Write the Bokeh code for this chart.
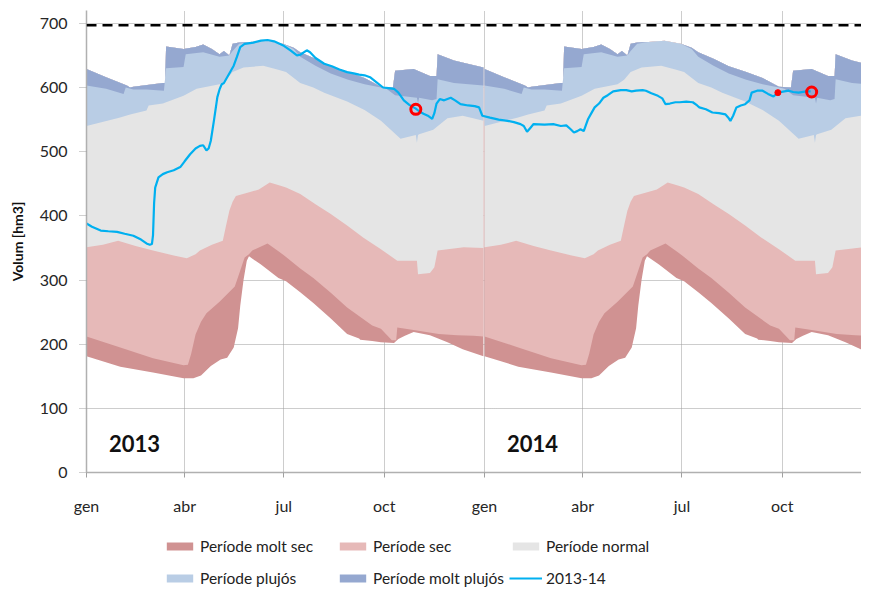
from bokeh.plotting import figure
from bokeh.layouts import column
from bokeh.models import Range1d, FixedTicker, Span, Legend, LegendItem, Label
from bokeh.embed import file_html
from bokeh.resources import INLINE

# ---------------- data (day of year, hm3) ----------------
# boundaries of the climatological bands (same each year)
days_b0 = [0, 31, 61, 89, 98, 105, 114, 123, 129, 135, 139, 141, 144, 147, 149, 160, 176, 183, 196, 208,
           224, 239, 250, 251, 262, 270, 282, 286, 292, 300, 315, 331, 345, 364]
vals_b0 = [181, 165, 156, 147, 147, 151, 166, 176, 179, 195, 225, 260, 300, 330, 337, 324, 303, 298, 281, 264,
           240, 216, 209, 207, 205, 203, 202, 208, 213, 219, 214, 203, 192, 181]

days_b1 = [0, 31, 61, 89, 93, 96, 100, 105, 110, 122, 136, 141, 145, 149, 152, 166, 176, 183, 196, 208,
           224, 239, 262, 270, 280, 284, 285, 300, 323, 340, 355, 364]
vals_b1 = [212, 195, 178, 167, 168, 185, 215, 235, 248, 266, 290, 315, 335, 340, 346, 357, 345, 336, 318, 303,
           280, 257, 229, 224, 206, 206, 226, 222, 216, 214, 213, 212]

days_b2 = [0, 15, 29, 45, 61, 80, 92, 100, 104, 115, 125, 128, 131, 134, 137, 150, 158, 168, 178, 183,
           196, 210, 224, 239, 254, 270, 285, 303, 304, 315, 319, 322, 346, 364]
vals_b2 = [351, 355, 361, 353, 346, 338, 334, 340, 346, 355, 361, 385, 408, 422, 431, 437, 441, 452, 447, 444,
           434, 418, 403, 385, 366, 348, 330, 330, 309, 311, 320, 346, 351, 350]

days_b3 = [0, 30, 40, 55, 57, 70, 89, 101, 122, 128, 134, 144, 162, 175, 183, 196, 208, 218, 239, 255,
           270, 288, 302, 303, 304, 305, 318, 331, 345, 364]
vals_b3 = [540, 553, 558, 564, 572, 575, 587, 598, 605, 612, 624, 631, 634, 628, 624, 607, 600, 592, 578, 565,
           548, 520, 526, 514, 526, 527, 534, 552, 556, 548]

days_b4 = [0, 18, 34, 36, 43, 55, 71, 73, 89, 91, 107, 122, 131, 134, 140, 150, 165, 180, 190, 196,
           210, 224, 240, 255, 270, 275, 283, 303, 304, 305, 317, 321, 322, 337, 364]
vals_b4 = [603, 598, 590, 600, 597, 597, 595, 630, 632, 652, 655, 648, 650, 657, 668, 671, 673, 668, 660, 648,
           634, 622, 612, 605, 600, 598, 588, 584, 575, 584, 580, 582, 613, 607, 603]

days_b5 = [0, 18, 37, 40, 43, 70, 72, 73, 89, 100, 107, 115, 122, 126, 131, 134, 140, 150, 165, 180,
           190, 196, 210, 224, 240, 255, 270, 281, 283, 300, 315, 321, 322, 337, 364]
vals_b5 = [629, 616, 603, 600, 601, 607, 607, 664, 660, 663, 667, 660, 652, 657, 650, 668, 670, 671, 673, 668,
           662, 655, 645, 633, 624, 615, 601, 600, 626, 629, 618, 618, 652, 642, 631]

band_names = ["Període molt sec", "Període sec", "Període normal", "Període plujós", "Període molt plujós"]
band_colors = ["#D09292", "#E6B9B8", "#E5E5E5", "#B9CDE5", "#95A8D0"]

# observed volume 2013-14 (days since 1 Jan 2013)
line_days = [0, 5, 13, 20, 28, 35, 43, 50, 55, 58, 60, 61, 62, 63, 66, 70, 74, 80, 86, 90, 95, 100, 104, 107,
             110, 112, 114, 117, 120, 122, 124, 126, 129, 132, 135, 138, 141, 145, 153, 160, 166, 172, 181, 187,
             193, 196, 202, 205, 210, 218, 225, 232, 239, 245, 250, 255, 260, 266, 272, 277, 282, 286, 291, 296,
             302, 305, 309, 313, 317, 319, 321, 324, 328, 334, 338, 343, 350, 356, 360, 363, 370, 378, 386, 392,
             398, 401, 404, 407, 410, 420, 428, 435, 440, 444, 447, 450, 453, 456, 460, 463, 466, 470, 474, 478,
             483, 490, 495, 500, 504, 510, 513, 518, 524, 528, 531, 535, 540, 544, 550, 556, 560, 562, 568, 574,
             580, 586, 589, 590.5, 593, 596, 600, 604, 608, 610, 615, 620, 625, 630, 634, 640, 644, 648, 653, 660, 664]
line_vals = [388, 383, 377, 376, 375, 372, 369, 363, 357, 355, 356, 370, 420, 444, 460, 465, 468, 471, 476, 485,
             496, 505, 509, 510, 502, 505, 517, 550, 585, 597, 605, 607, 616, 625, 634, 648, 663, 668, 670, 673,
             674, 672, 665, 658, 650, 651, 658, 655, 646, 637, 633, 628, 624, 622, 620, 619, 616, 608, 600, 599,
             598, 592, 580, 573, 567, 563, 559, 556, 551, 560, 575, 582, 580, 584, 580, 574, 572, 571, 569, 556,
             553, 550, 548, 546, 543, 540, 531, 537, 543, 542, 543, 540, 541, 535, 530, 532, 535, 532, 551, 560,
             569, 575, 584, 588, 594, 596, 596, 594, 595, 596, 595, 591, 587, 583, 574, 575, 577, 577, 578, 577,
             572, 569, 566, 561, 560, 558, 552, 548, 556, 569, 572, 574, 580, 592, 595, 595, 590, 586, 592, 594,
             595, 593, 592, 594, 594]
line_name = "2013-14"

circle_days = [302, 665]
circle_vals = [566, 593]
dot_days = [634]
dot_vals = [592]

capacity = 697

year_starts = [0, 365]
year_texts = ["2013", "2014"]

month_tick_days = [0, 90, 181, 273, 365, 455, 546, 638]
month_tick_labels = ["gen", "abr", "jul", "oct", "gen", "abr", "jul", "oct"]
y_ticks = [0, 100, 200, 300, 400, 500, 600, 700]

# ---------------- main figure ----------------
FONT = "Lato"
p = figure(width=861, height=520, output_backend="svg", toolbar_location=None,
           x_range=Range1d(0, 710.7), y_range=Range1d(0, 720),
           min_border_left=86, min_border_right=0, min_border_top=10, min_border_bottom=48)
p.outline_line_color = None

boundaries = [(days_b0, vals_b0), (days_b1, vals_b1), (days_b2, vals_b2),
              (days_b3, vals_b3), (days_b4, vals_b4)]
top_d, top_v = days_b5, vals_b5


def band_polygon(k, off):
    bd, bv = boundaries[k]
    xs = [d + off for d in bd] + [d + off for d in top_d[::-1]]
    ys = list(bv) + list(top_v[::-1])
    return xs, ys


for off in year_starts:
    for k in range(len(boundaries)):
        xs, ys = band_polygon(k, off)
        p.patch(xs, ys, fill_color=band_colors[k], line_color=None)

p.line(line_days, line_vals, line_color="#00B0F0", line_width=2.2)
p.scatter(circle_days, circle_vals, marker="circle", size=10, fill_color=None,
          line_color="#FF0000", line_width=3)
p.scatter(dot_days, dot_vals, marker="circle", size=6, fill_color="#FF0000", line_color="#FF0000")

p.add_layout(Span(location=capacity, dimension="width", line_color="black",
                  line_width=2.5, line_dash="10 6"))

for off, txt in zip(year_starts, year_texts):
    p.add_layout(Label(x=off + 44, y=45, text=txt, text_font=FONT, text_font_style="bold",
                       text_font_size="22px", text_align="center", text_baseline="middle",
                       text_color="#111111"))

p.xaxis.ticker = FixedTicker(ticks=month_tick_days)
p.xaxis.major_label_overrides = {d: l for d, l in zip(month_tick_days, month_tick_labels)}
p.yaxis.ticker = FixedTicker(ticks=y_ticks)
for ax in (p.xaxis[0], p.yaxis[0]):
    ax.major_label_text_font = FONT
    ax.major_label_text_font_size = "16px"
    ax.major_label_text_color = "#262626"
    ax.axis_line_color = "#B0B0B0"
    ax.axis_line_width = 1.5
    ax.minor_tick_line_color = None
    ax.major_tick_in = 0
    ax.major_tick_line_color = "#A0A0A0"

p.xaxis.major_tick_out = 5
p.xaxis.major_label_standoff = 18
p.yaxis.major_tick_out = 7
p.yaxis.major_tick_line_dash = "1 1"
p.yaxis.major_label_standoff = 12
p.yaxis.axis_label = "Volum [hm3]"
p.yaxis.axis_label_text_font = FONT
p.yaxis.axis_label_text_font_style = "bold"
p.yaxis.axis_label_text_font_size = "14px"
p.yaxis.axis_label_text_color = "#111111"
p.yaxis.axis_label_standoff = 11

for g in (p.xgrid[0], p.ygrid[0]):
    g.grid_line_color = "#9A9A9A"
    g.grid_line_dash = "1 1"
    g.grid_line_width = 1

# ---------------- legend strip ----------------
# the strip's ranges lie below all data, so its proxy glyphs only show in the legend
lf = figure(width=861, height=68, output_backend="svg", toolbar_location=None,
            x_range=Range1d(0, 1), y_range=Range1d(-2, -1),
            x_axis_location=None, y_axis_location=None, min_border=0)
lf.outline_line_color = None
lf.xgrid.visible = False
lf.ygrid.visible = False
leg_r = []
for k in range(len(boundaries)):
    xs, ys = band_polygon(k, 0)
    leg_r.append(lf.patch(xs, ys, fill_color=band_colors[k], line_color=None))
leg_line = lf.line(line_days, line_vals, line_color="#00B0F0", line_width=2.2)

legend_style = dict(orientation="horizontal", glyph_width=33, glyph_height=10, label_width=132,
                    label_standoff=4, spacing=4, padding=0, margin=0, label_height=14,
                    border_line_color=None, background_fill_alpha=0,
                    label_text_font=FONT, label_text_font_size="15.5px", label_text_color="#222222")
row1 = [LegendItem(label=band_names[i], renderers=[leg_r[i]]) for i in range(3)]
row2 = [LegendItem(label=band_names[i], renderers=[leg_r[i]]) for i in range(3, 5)]
row2.append(LegendItem(label=line_name, renderers=[leg_line]))
lf.add_layout(Legend(items=row1, location=(77, 33), **legend_style))
lf.add_layout(Legend(items=row2, location=(77, 1), **legend_style))

open("out.html", "w").write(file_html(column(p, lf, spacing=0), INLINE))
